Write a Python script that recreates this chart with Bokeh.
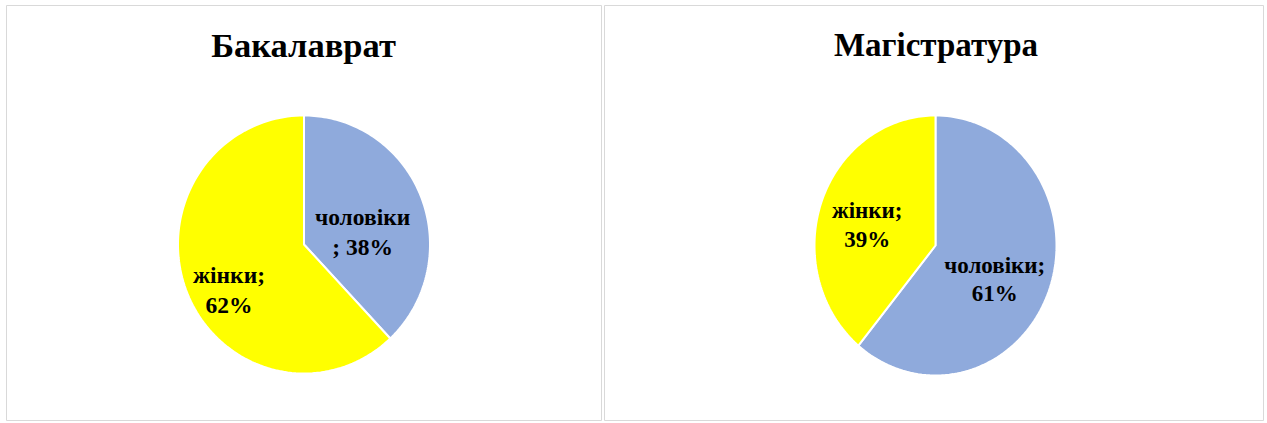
import numpy as np
from bokeh.plotting import figure
from bokeh.models import Range1d
from bokeh.layouts import row
from bokeh.core.properties import value
from bokeh.embed import file_html
from bokeh.resources import INLINE

# ---- data ----
titles = ["Бакалаврат", "Магістратура"]
categories = ["чоловіки", "жінки"]
bachelor_pct = [38, 62]
master_pct = [61, 39]
colors = ["#8FAADC", "#FFFF00"]

FONT = value("Liberation Serif")


def slice_poly(cx, cy, rx, ry, f0, f1, n=120):
    # fractions measured clockwise from 12 o'clock
    t = np.linspace(f0, f1, n) * 2 * np.pi
    xs = np.concatenate([[cx], cx + rx * np.sin(t), [cx]])
    ys = np.concatenate([[cy], cy + ry * np.cos(t), [cy]])
    return list(xs), list(ys)


def make_panel(title, pcts, W, H, cx, cy, rx, ry, title_x, title_size,
               label_r, label_dy, label_size, label_fmt):
    p = figure(width=W, height=H, x_range=Range1d(0, W), y_range=Range1d(0, H),
               output_backend="svg", toolbar_location=None, min_border=0,
               x_axis_location=None, y_axis_location=None)
    p.grid.visible = False
    p.outline_line_color = "#D9D9D9"
    p.outline_line_width = 1
    p.background_fill_color = "white"
    p.border_fill_color = "white"

    total = float(sum(pcts))
    fr = np.cumsum([0] + [v / total for v in pcts])
    xs_all, ys_all = [], []
    lx, ly, lt = [], [], []
    for i, v in enumerate(pcts):
        xs, ys = slice_poly(cx, cy, rx, ry, fr[i], fr[i + 1])
        xs_all.append(xs)
        ys_all.append(ys)
        mid = (fr[i] + fr[i + 1]) / 2 * 2 * np.pi
        lx.append(cx + label_r[i] * rx * np.sin(mid))
        ly.append(cy + label_r[i] * ry * np.cos(mid) - 11 + label_dy[i])
        lt.append(label_fmt[i].format(cat=categories[i], pct=v))
    p.patches(xs_all, ys_all, fill_color=colors, line_color="white", line_width=2)
    p.text(lx, ly, text=lt, text_font=FONT, text_font_style="bold",
           text_font_size=label_size, text_color="#000000", text_align="center",
           text_baseline="middle", text_line_height=1.15)
    p.text([title_x], [H - 39], text=[title], text_font=FONT, text_font_style="bold",
           text_font_size=title_size, text_color="#000000", text_align="center",
           text_baseline="middle")
    return p


H = 416
p1 = make_panel(titles[0], bachelor_pct, 596, H, 297.5, H - 239, 126, 129, 297, "34.5px",
                [0.50, 0.64], [0, -4], "23.5px",
                ["{cat}\n; {pct}%", "{cat};\n{pct}%"])
p2 = make_panel(titles[1], master_pct, 660, H, 331, H - 240, 121, 130, 331.5, "33px",
                [0.52, 0.60], [0, 5], "23px",
                ["{cat};\n{pct}%", "{cat};\n{pct}%"])

layout = row(p1, p2, spacing=2, margin=(5, 0, 0, 6))

open("out.html", "w").write(file_html(layout, INLINE))
